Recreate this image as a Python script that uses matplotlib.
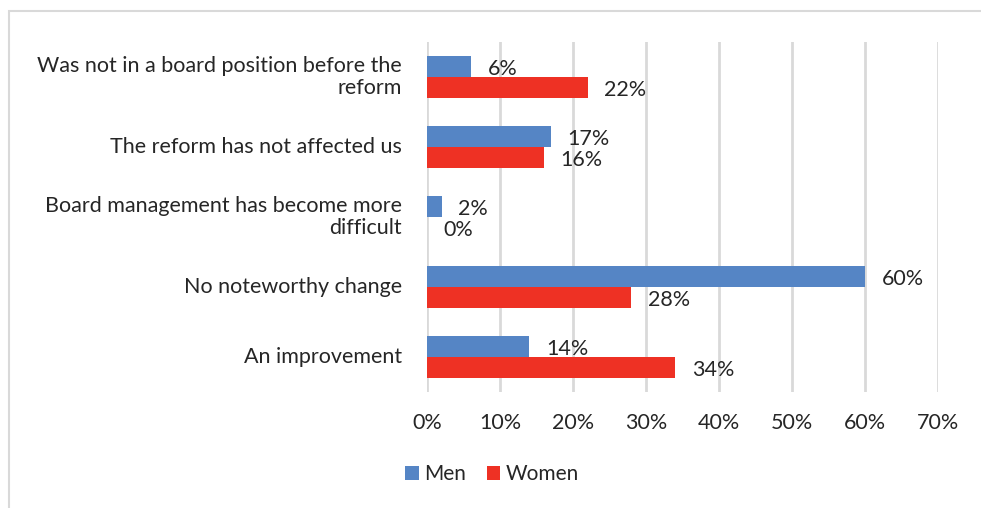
import numpy as np
import matplotlib.pyplot as plt
from matplotlib.patches import Rectangle

plt.rcParams['font.family'] = ['Lato', 'DejaVu Sans']

categories = [
    "Was not in a board position before the\nreform",
    "The reform has not affected us",
    "Board management has become more\ndifficult",
    "No noteworthy change",
    "An improvement",
]
men = [6, 17, 2, 60, 14]
women = [22, 16, 0, 28, 34]
xticks = [0, 10, 20, 30, 40, 50, 60, 70]

BLUE = "#5585C5"
RED = "#EE3124"
TEXT = "#262626"
GRID = "#D9D9D9"
FS = 15.5

fig = plt.figure(figsize=(9.81, 5.08), dpi=100)
ax = fig.add_axes([427 / 981, (508 - 392) / 508, 511 / 981, 350 / 508])

y = np.arange(len(categories))
h = 0.3
b_men = ax.barh(y - h / 2, men, height=h, color=BLUE, label="Men")
b_women = ax.barh(y + h / 2, women, height=h, color=RED, label="Women")

for bars, vals in ((b_men, men), (b_women, women)):
    for bar, v in zip(bars, vals):
        ax.annotate(f"{v}%", (bar.get_width(), bar.get_y() + bar.get_height() / 2),
                    xytext=(12, -2), textcoords="offset points",
                    ha="left", va="center", fontsize=FS, color=TEXT)

ax.set_xlim(0, 70)
ax.set_ylim(len(categories) - 0.5, -0.5)
ax.set_xticks(xticks)
ax.set_xticklabels([f"{t}%" for t in xticks])
ax.set_yticks(y)
ax.set_yticklabels(categories, ha="right", va="center", linespacing=1.15)
ax.tick_params(axis="both", length=0, labelsize=FS, colors=TEXT)
ax.tick_params(axis="x", pad=15)
ax.tick_params(axis="y", pad=18)
ax.grid(axis="x", color=GRID, linewidth=2)
ax.set_axisbelow(True)
for s in ax.spines.values():
    s.set_visible(False)

fig.legend(handles=[b_men, b_women], loc="center", bbox_to_anchor=(492 / 981, 1 - 474 / 508),
           ncol=2, frameon=False, fontsize=15, handlelength=0.65, handleheight=0.65,
           handletextpad=0.25, columnspacing=1.0, labelcolor=TEXT)

# light frame around the chart area
fig.patches.append(Rectangle((9 / 981, -0.1), 1.1, 1 - 11 / 508 + 0.1,
                             transform=fig.transFigure, fill=False,
                             edgecolor=GRID, linewidth=1.5))

fig.savefig("out.png", dpi=100)
